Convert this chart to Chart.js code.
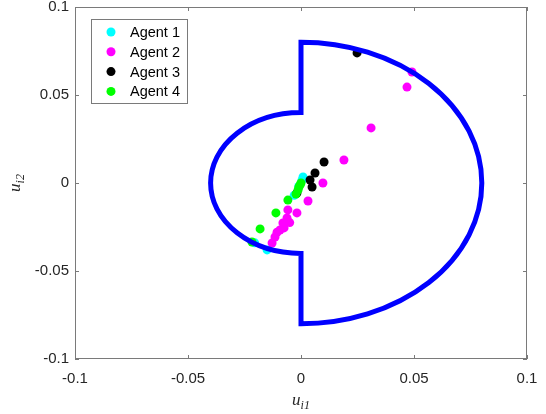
<!DOCTYPE html>
<html>
<head>
<meta charset="utf-8">
<script src="https://cdn.jsdelivr.net/npm/chart.js@4.4.1/dist/chart.umd.min.js"></script>
<style>
  html, body { margin: 0; padding: 0; background: #fff; }
  #wrap { width: 546px; height: 414px; position: relative; }
</style>
</head>
<body>
<div id="wrap"><canvas id="c"></canvas></div>
<script>
// axis ticks
const tickValues = [-0.1, -0.05, 0, 0.05, 0.1];
const tickLabels = ['-0.1', '-0.05', '0', '0.05', '0.1'];

// boundary: right half-disc radius 0.08, left half-disc radius 0.04
const outerRadius = 0.08;
const innerRadius = 0.04;

// agent points (u_i1, u_i2)
const agentNames = ['Agent 1', 'Agent 2', 'Agent 3', 'Agent 4'];
const agentColors = ['#00ffff', '#ff00ff', '#000000', '#00ff00'];

const agent1X = [0.0009, 0.0004, -0.0010, -0.0030, -0.0150, -0.0205];
const agent1Y = [0.0034, 0.0015, -0.0020, -0.0070, -0.0380, -0.0340];

const agent2X = [0.0491, 0.0469, 0.0310, 0.0190, 0.0097, 0.0031, -0.0018, -0.0058, -0.0062, -0.0050, -0.0080, -0.0075, -0.0093, -0.0106, -0.0115, -0.0128];
const agent2Y = [0.0631, 0.0545, 0.0313, 0.0131, 0.0000, -0.0102, -0.0170, -0.0153, -0.0199, -0.0225, -0.0227, -0.0255, -0.0267, -0.0280, -0.0307, -0.0341];

const agent3X = [0.0248, 0.0102, 0.0062, 0.0040, 0.0049, -0.0018];
const agent3Y = [0.0739, 0.0119, 0.0057, 0.0017, -0.0023, -0.0057];

const agent4X = [0.0000, -0.0004, -0.0009, -0.0013, -0.0022, -0.0058, -0.0111, -0.0181, -0.0217];
const agent4Y = [0.0000, -0.0011, -0.0023, -0.0040, -0.0063, -0.0097, -0.0170, -0.0261, -0.0335];

const agentXs = [agent1X, agent2X, agent3X, agent4X];
const agentYs = [agent1Y, agent2Y, agent3Y, agent4Y];

const axisColor = '#7a7a7a';
const textColor = '#262626';

// blue boundary, drawn on top of the points
const boundaryPlugin = {
  id: 'boundary',
  afterDatasetsDraw(chart) {
    const { ctx, scales: { x, y } } = chart;
    const cx = x.getPixelForValue(0), cy = y.getPixelForValue(0);
    const rxO = x.getPixelForValue(outerRadius) - cx;
    const ryO = cy - y.getPixelForValue(outerRadius);
    const rxI = x.getPixelForValue(innerRadius) - cx;
    const ryI = cy - y.getPixelForValue(innerRadius);
    ctx.save();
    ctx.strokeStyle = '#0000ff';
    ctx.lineWidth = 5;
    ctx.lineJoin = 'miter';
    ctx.beginPath();
    ctx.moveTo(cx, cy - ryO);
    ctx.ellipse(cx, cy, rxO, ryO, 0, -Math.PI / 2, Math.PI / 2);
    ctx.lineTo(cx, cy + ryI);
    ctx.ellipse(cx, cy, rxI, ryI, 0, Math.PI / 2, Math.PI * 1.5);
    ctx.closePath();
    ctx.stroke();
    ctx.restore();
  }
};

// box, inward ticks, axis titles, legend (MATLAB style)
const framePlugin = {
  id: 'frame',
  afterDraw(chart) {
    const { ctx, chartArea: a, scales: { x, y } } = chart;
    ctx.save();
    ctx.strokeStyle = axisColor;
    ctx.lineWidth = 1;
    ctx.strokeRect(a.left + 0.5, a.top + 0.5, a.right - a.left - 1, a.bottom - a.top - 1);
    const tl = 4;
    ctx.beginPath();
    tickValues.forEach(v => {
      const px = Math.round(x.getPixelForValue(v)) + 0.5;
      ctx.moveTo(px, a.bottom); ctx.lineTo(px, a.bottom - tl);
      ctx.moveTo(px, a.top); ctx.lineTo(px, a.top + tl);
      const py = Math.round(y.getPixelForValue(v)) + 0.5;
      ctx.moveTo(a.left, py); ctx.lineTo(a.left + tl, py);
      ctx.moveTo(a.right, py); ctx.lineTo(a.right - tl, py);
    });
    ctx.stroke();

    // axis titles u_{i1}, u_{i2}
    const drawSub = (sub) => {
      ctx.font = 'italic 17px "Liberation Serif", serif';
      const w1 = ctx.measureText('u').width;
      ctx.font = 'italic 12px "Liberation Serif", serif';
      const w2 = ctx.measureText(sub).width;
      const x0 = -(w1 + w2) / 2;
      ctx.fillStyle = textColor;
      ctx.textBaseline = 'alphabetic';
      ctx.textAlign = 'left';
      ctx.font = 'italic 17px "Liberation Serif", serif';
      ctx.fillText('u', x0, 4);
      ctx.font = 'italic 12px "Liberation Serif", serif';
      ctx.fillText(sub, x0 + w1, 8);
    };
    ctx.save();
    ctx.translate((a.left + a.right) / 2, 401);
    drawSub('i1');
    ctx.restore();
    ctx.save();
    ctx.translate(16, (a.top + a.bottom) / 2);
    ctx.rotate(-Math.PI / 2);
    drawSub('i2');
    ctx.restore();

    // legend
    const lx = 91, ly = 19, lw = 96, lh = 84, rowH = 19.8;
    ctx.fillStyle = '#ffffff';
    ctx.fillRect(lx, ly, lw, lh);
    ctx.strokeStyle = axisColor;
    ctx.strokeRect(lx + 0.5, ly + 0.5, lw, lh);
    ctx.font = '14.5px "Liberation Sans", Arial, sans-serif';
    ctx.textBaseline = 'middle';
    ctx.textAlign = 'left';
    chart.data.datasets.forEach((ds, i) => {
      const ry = ly + 13 + i * rowH;
      ctx.fillStyle = ds.backgroundColor;
      ctx.beginPath();
      ctx.arc(lx + 20, ry, 4.5, 0, Math.PI * 2);
      ctx.fill();
      ctx.fillStyle = '#000000';
      ctx.fillText(ds.label, lx + 39, ry + 1);
    });
    ctx.restore();
  }
};

const datasets = agentNames.map((name, i) => ({
  label: name,
  data: agentXs[i].map((v, k) => ({ x: v, y: agentYs[i][k] })),
  backgroundColor: agentColors[i],
  borderWidth: 0,
  pointRadius: 4.5,
  order: agentNames.length - i
}));

const tickFont = { family: '"Liberation Sans", Arial, sans-serif', size: 15 };

new Chart(document.getElementById('c'), {
  type: 'scatter',
  data: { datasets },
  options: {
    responsive: true,
    maintainAspectRatio: false,
    animation: false,
    layout: { padding: { top: 7, right: 19, left: 0, bottom: 0 } },
    plugins: { legend: { display: false }, tooltip: { enabled: false } },
    scales: {
      x: {
        type: 'linear', min: -0.1, max: 0.1,
        afterBuildTicks: s => { s.ticks = tickValues.map(v => ({ value: v })); },
        afterFit: s => { s.height = 55; s.paddingLeft = 0; s.paddingRight = 0; },
        ticks: { callback: (v, i) => tickLabels[i], font: tickFont, color: textColor, padding: 11, maxRotation: 0 },
        grid: { display: false, drawTicks: false },
        border: { display: false }
      },
      y: {
        type: 'linear', min: -0.1, max: 0.1,
        afterBuildTicks: s => { s.ticks = tickValues.map(v => ({ value: v })); },
        afterFit: s => { s.width = 75; s.paddingTop = 0; s.paddingBottom = 0; },
        ticks: { callback: (v, i) => tickLabels[i], font: tickFont, color: textColor, padding: 6 },
        grid: { display: false, drawTicks: false },
        border: { display: false }
      }
    }
  },
  plugins: [boundaryPlugin, framePlugin]
});
</script>
</body>
</html>
